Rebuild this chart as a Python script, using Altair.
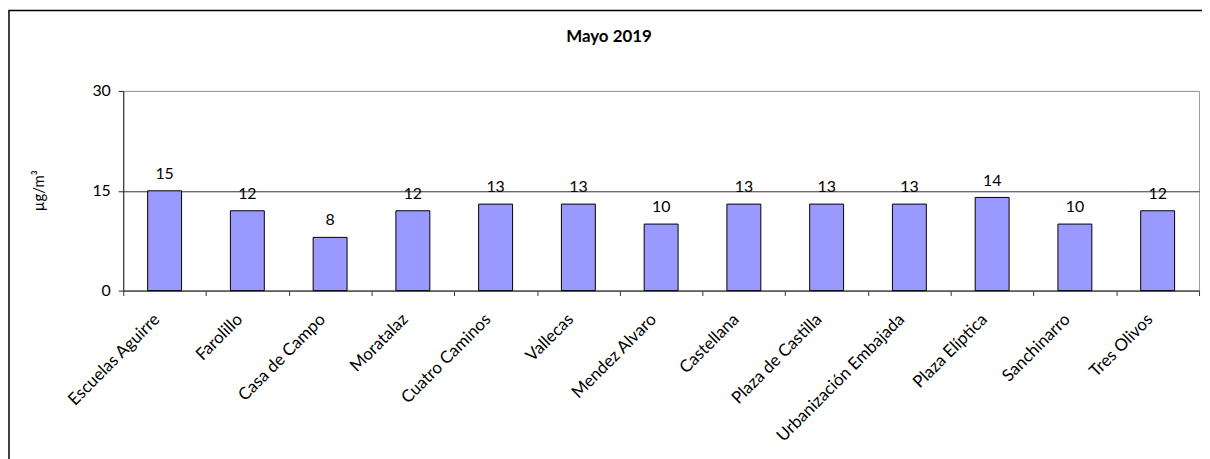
import altair as alt
import pandas as pd

stations = ["Escuelas Aguirre", "Farolillo", "Casa de Campo", "Moratalaz",
            "Cuatro Caminos", "Vallecas", "Mendez Alvaro", "Castellana",
            "Plaza de Castilla", "Urbanización Embajada", "Plaza Elíptica",
            "Sanchinarro", "Tres Olivos"]
values = [15, 12, 8, 12, 13, 13, 10, 13, 13, 13, 14, 10, 12]
y_ticks = [0, 15, 30]
title_text = ["Mayo 2019"]
y_title = "µg/m³"

df = pd.DataFrame({"station": stations, "value": values})

FONT = "Lato"

x_enc = alt.X("station:N", sort=stations, title=None,
              scale=alt.Scale(paddingInner=0, paddingOuter=0),
              axis=alt.Axis(labelAngle=-45, labelAlign="right", labelBaseline="middle",
                            tickBand="extent", tickSize=5, labelPadding=21,
                            labelOffset=-8,
                            domainColor="#555555", tickColor="#333333",
                            labelFont=FONT, labelFontSize=17, labelColor="black"))
y_enc = alt.Y("value:Q", title=y_title,
              scale=alt.Scale(domain=[0, 30], nice=False),
              axis=alt.Axis(values=y_ticks, tickSize=5, labelPadding=8,
                            domainColor="#222222", tickColor="#222222",
                            gridColor={"condition": {"test": "datum.value === 30", "value": "#9a9a9a"},
                                       "value": "#333333"},
                            labelFont=FONT, labelFontSize=16, labelColor="black",
                            titleFont=FONT, titleFontSize=15, titleFontWeight="normal",
                            titleColor="black", titleX=-80, titleY=100,
                            titleAngle=270, titleAlign="center", titleBaseline="alphabetic"))

base = alt.Chart(df)
bars = base.mark_bar(color="#9999ff", stroke="black", strokeWidth=1,
                     width={"band": 0.41}).encode(x=x_enc, y=y_enc)
labels = base.mark_text(font=FONT, fontSize=16, dy=-12, baseline="alphabetic",
                        color="black").encode(x=alt.X("station:N", sort=stations),
                                              y=alt.Y("value:Q"),
                                              text=alt.Text("value:Q"))

title = alt.Chart(pd.DataFrame({"t": title_text})).mark_text(
    font=FONT, fontSize=17, fontWeight="bold", color="black",
    align="center", baseline="alphabetic").encode(
    text="t:N", x=alt.value(489), y=alt.value(-49))

frame = alt.Chart(pd.DataFrame({"a": [0]})).mark_rect(
    filled=False, stroke="black", strokeWidth=1.5).encode(
    x=alt.value(-115), x2=alt.value(1300), y=alt.value(-81), y2=alt.value(500))

chart = alt.layer(frame, bars, labels, title).properties(
    width=1083, height=201,
    autosize=alt.AutoSizeParams(type="none"),
    padding={"left": 116, "top": 82, "right": 3, "bottom": 168},
).configure_view(stroke="#9a9a9a", strokeWidth=1)

chart.save("out.html", embed_options={"renderer": "svg", "actions": False})
